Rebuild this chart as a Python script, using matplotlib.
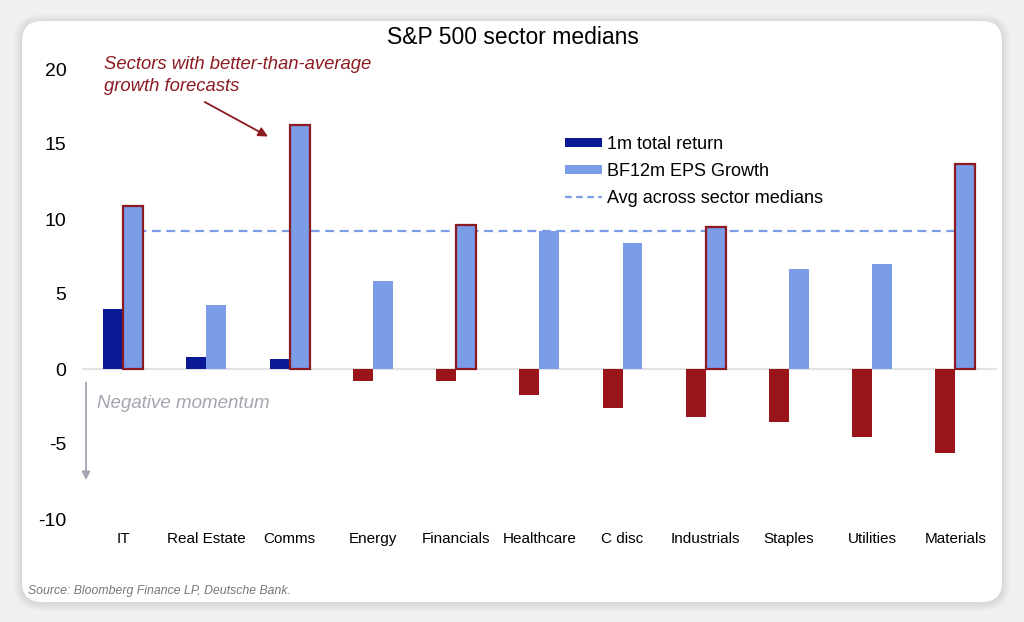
import numpy as np
import matplotlib
matplotlib.use("Agg")
import matplotlib.pyplot as plt
import matplotlib.patches as patches
from matplotlib.lines import Line2D

plt.rcParams['font.family'] = ['Liberation Sans', 'DejaVu Sans']
plt.rcParams['axes.unicode_minus'] = False

# Data
sectors = ['IT', 'Real Estate', 'Comms', 'Energy', 'Financials', 'Healthcare',
           'C disc', 'Industrials', 'Staples', 'Utilities', 'Materials']
ret_1m = [4.0, 0.8, 0.7, -0.8, -0.8, -1.7, -2.6, -3.2, -3.5, -4.5, -5.6]
eps_growth = [10.9, 4.3, 16.3, 5.9, 9.6, 9.2, 8.4, 9.5, 6.7, 7.0, 13.7]
avg_eps = np.mean(eps_growth)

navy = '#0a1a94'
light = '#7b9de8'
red = '#9a1519'
outline = '#8c1a22'

W, H = 1024, 622
fig = plt.figure(figsize=(W / 100, H / 100), dpi=100)
fig.patch.set_facecolor('#f0f0f0')

# card with soft shadow
for i in range(8):
    g = 16 - 2 * i
    sh = patches.FancyBboxPatch((22 - g / 2, 20 - g / 2 - 1), 980 + g, 581 + g,
                                boxstyle='round,pad=0,rounding_size=%d' % (20 + g / 2),
                                transform=None, facecolor='black', alpha=0.012,
                                edgecolor='none', zorder=-3)
    fig.patches.append(sh)
card = patches.FancyBboxPatch((22, 20), 980, 581,
                              boxstyle='round,pad=0,rounding_size=20',
                              transform=None, facecolor='white', edgecolor='none',
                              zorder=-2)
fig.patches.append(card)

ax = fig.add_axes([81.6 / W, 1 - 519 / H, 915.4 / W, 450 / H])
ax.set_facecolor('none')
x = np.arange(len(sectors))
bw = 0.24

ret_colors = [navy if v >= 0 else red for v in ret_1m]
ax.bar(x - bw / 2, ret_1m, bw, color=ret_colors, zorder=3)
edge = [outline if v > avg_eps else 'none' for v in eps_growth]
ax.bar(x + bw / 2, eps_growth, bw, color=light, edgecolor=edge, linewidth=1.6, zorder=3)

ax.plot([x[0], x[-1]], [avg_eps, avg_eps], color=light, linestyle=(0, (4, 2.5)),
        linewidth=1.6, zorder=2)
ax.axhline(0, color='#e2e2e2', linewidth=1.5, zorder=1)

ax.set_xlim(-0.5, len(sectors) - 0.5)
ax.set_ylim(-10, 20)
ax.set_yticks([-10, -5, 0, 5, 10, 15, 20])
ax.set_xticks(x)
ax.set_xticklabels(sectors, fontsize=11)
ax.tick_params(axis='x', length=0, pad=17.5)
for lab in ax.get_xticklabels():
    lab.set_va('baseline')
ax.tick_params(axis='y', length=0, labelsize=14, pad=11)
for s in ax.spines.values():
    s.set_visible(False)

# legend
handles = [patches.Rectangle((0, 0), 1, 1, facecolor=navy),
           patches.Rectangle((0, 0), 1, 1, facecolor=light),
           Line2D([0], [0], color=light, linestyle=(0, (3, 2)), linewidth=1.6)]
labels = ['1m total return', 'BF12m EPS Growth', 'Avg across sector medians']
leg = ax.legend(handles, labels, loc='upper left', bbox_to_anchor=(556 / W, 1 - 127 / H),
                bbox_transform=fig.transFigure, frameon=False, fontsize=13,
                handlelength=2.05, handleheight=0.45, handletextpad=0.3,
                labelspacing=0.55, borderpad=0)

# title and notes
fig.text(513 / W, 1 - 37 / H, 'S&P 500 sector medians', fontsize=16.5,
         ha='center', va='center')
fig.text(104 / W, 1 - 56 / H, 'Sectors with better-than-average\ngrowth forecasts',
         fontsize=13.3, style='italic', color=outline, ha='left', va='top',
         linespacing=1.35)
ax.annotate('', xy=(1.74, 15.5), xytext=(0.98, 17.8),
            arrowprops=dict(arrowstyle='-|>', color=outline, lw=1.3,
                            mutation_scale=14, shrinkA=0, shrinkB=0))
ax.annotate('', xy=(-0.447, -7.4), xytext=(-0.447, -0.9),
            arrowprops=dict(arrowstyle='-|>', color='#a3a6b0', lw=1.3,
                            mutation_scale=12, shrinkA=0, shrinkB=0),
            annotation_clip=False)
fig.text(97 / W, 1 - 403 / H, 'Negative momentum', fontsize=13.5, style='italic',
         color='#a3a6b0', ha='left', va='center')
fig.text(28 / W, 1 - 591 / H, 'Source: Bloomberg Finance LP, Deutsche Bank.',
         fontsize=8.8, style='italic', color='#777777', ha='left', va='center')

fig.savefig('out.png', dpi=100, facecolor=fig.get_facecolor())
